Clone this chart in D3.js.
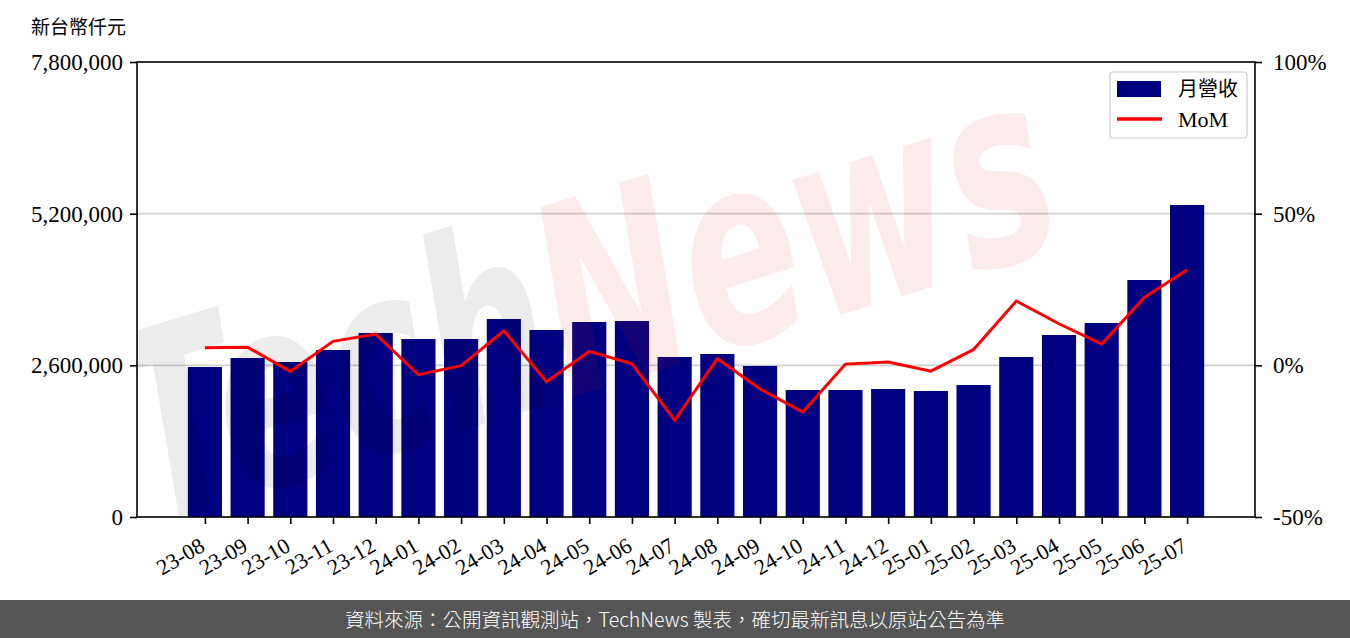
<!DOCTYPE html>
<html lang="zh-Hant-TW">
<head>
<meta charset="utf-8">
<script src="https://cdn.jsdelivr.net/npm/d3@7"></script>
<style>
  html, body { margin: 0; padding: 0; background: #fff; }
  svg { display: block; }
</style>
</head>
<body>
<svg id="chart" width="1350" height="638"></svg>
<script>
// ---- data ----
const months = ["23-08","23-09","23-10","23-11","23-12","24-01","24-02","24-03","24-04","24-05","24-06","24-07",
                "24-08","24-09","24-10","24-11","24-12","25-01","25-02","25-03","25-04","25-05","25-06","25-07"];
const revenue = [2571000, 2726000, 2657000, 2863000, 3154000, 3051000, 3051000, 3394000, 3206000, 3343000, 3360000, 2743000,
                 2794000, 2589000, 2177000, 2177000, 2194000, 2160000, 2263000, 2743000, 3120000, 3326000, 4063000, 5349000];
const mom = [5.8, 6.0, -2.0, 7.9, 10.3, -3.1, -0.1, 11.4, -5.4, 4.6, 0.5, -18.1,
             2.2, -7.8, -15.4, 0.4, 1.1, -1.9, 5.2, 21.2, 13.7, 7.0, 22.4, 31.5];
const leftTicks = [0, 2600000, 5200000, 7800000];
const rightTicks = [-50, 0, 50, 100];
const yTitle = "新台幣仟元";
const legendLabels = ["月營收", "MoM"];
const footerText = "資料來源：公開資訊觀測站，TechNews 製表，確切最新訊息以原站公告為準";

// ---- layout ----
const svg = d3.select("#chart");
const L = 137, R = 1255, T = 62, B = 517;
const serif = "'Liberation Serif', 'DejaVu Serif', serif";
const cjk = "'Noto Sans CJK TC', 'Noto Sans CJK SC', sans-serif";
const navy = "#000080";

const n = months.length;
const x = d3.scaleLinear().domain([-0.4 - 0.05 * (n - 0.2), n - 0.6 + 0.05 * (n - 0.2)]).range([L, R]);
const barW = x(0.8) - x(0);
const y = d3.scaleLinear().domain([0, 7800000]).range([B, T]);
const y2 = d3.scaleLinear().domain([-50, 100]).range([B, T]);

// gridlines
svg.append("g").selectAll("line").data(leftTicks.filter(d => d > 0 && d < 7800000)).join("line")
  .attr("x1", L).attr("x2", R).attr("y1", d => y(d)).attr("y2", d => y(d))
  .attr("stroke", "#d0d0d0").attr("stroke-width", 1.6);

// bars
svg.append("g").selectAll("rect").data(revenue).join("rect")
  .attr("x", (d, i) => x(i) - barW / 2)
  .attr("width", barW)
  .attr("y", d => y(d))
  .attr("height", d => B - y(d))
  .attr("fill", navy);

// watermark
const wmClip = svg.append("clipPath").attr("id", "plotclip");
wmClip.append("rect").attr("x", L).attr("y", T).attr("width", R - L).attr("height", B - T);
const wm = svg.append("g").attr("pointer-events", "none").attr("clip-path", "url(#plotclip)")
  .append("g").attr("transform", "translate(150,526) rotate(-17) scale(0.66,1)");
const wmText = wm.append("text")
  .attr("font-family", "'DejaVu Sans', sans-serif")
  .attr("font-style", "italic").attr("font-weight", "bold")
  .attr("font-size", 262);
wmText.append("tspan").text("Tech").attr("fill", "#000").attr("fill-opacity", 0.075);
wmText.append("tspan").text("News").attr("fill", "rgb(220,30,30)").attr("fill-opacity", 0.09);

// MoM line
svg.append("path").datum(mom)
  .attr("d", d3.line().x((d, i) => x(i)).y(d => y2(d)))
  .attr("fill", "none").attr("stroke", "#ff0000").attr("stroke-width", 3)
  .attr("stroke-linejoin", "miter");

// frame
svg.append("rect").attr("x", L).attr("y", T).attr("width", R - L).attr("height", B - T)
  .attr("fill", "none").attr("stroke", "#000").attr("stroke-width", 1.6);

// left axis
const leftAxis = d3.axisLeft(y).tickValues(leftTicks).tickFormat(d3.format(",")).tickSize(7).tickPadding(7);
const gl = svg.append("g").attr("transform", `translate(${L},0)`).call(leftAxis);
gl.select(".domain").remove();
gl.selectAll(".tick line").attr("stroke", "#000").attr("stroke-width", 1.6);
gl.selectAll(".tick text").attr("font-family", serif).attr("font-size", 23).attr("fill", "#000");

// right axis
const rightAxis = d3.axisRight(y2).tickValues(rightTicks).tickFormat(d => d + "%").tickSize(7).tickPadding(11);
const gr = svg.append("g").attr("transform", `translate(${R},0)`).call(rightAxis);
gr.select(".domain").remove();
gr.selectAll(".tick line").attr("stroke", "#000").attr("stroke-width", 1.6);
gr.selectAll(".tick text").attr("font-family", serif).attr("font-size", 23).attr("fill", "#000");

// bottom axis
const xb = d3.scaleOrdinal().domain(months).range(months.map((m, i) => x(i)));
const bottomAxis = d3.axisBottom(xb).tickSize(7).tickFormat(d => d);
const gb = svg.append("g").attr("transform", `translate(0,${B})`).call(bottomAxis);
gb.select(".domain").remove();
gb.selectAll(".tick line").attr("stroke", "#000").attr("stroke-width", 1.6);
gb.selectAll(".tick text")
  .attr("font-family", serif).attr("font-size", 22).attr("fill", "#000")
  .attr("text-anchor", "end").attr("dy", null).attr("y", null)
  .attr("transform", "translate(1,33) rotate(-30)");

// y title
svg.append("text").attr("x", 31).attr("y", 34).text(yTitle)
  .attr("font-family", cjk).attr("font-size", 19).attr("fill", "#000");

// legend
const lg = svg.append("g");
lg.append("rect").attr("x", 1110).attr("y", 72).attr("width", 137).attr("height", 66).attr("rx", 3)
  .attr("fill", "#fff").attr("fill-opacity", 0.8).attr("stroke", "#cccccc").attr("stroke-width", 1.2);
lg.append("rect").attr("x", 1117).attr("y", 81).attr("width", 44).attr("height", 16).attr("fill", navy);
lg.append("line").attr("x1", 1117).attr("x2", 1162).attr("y1", 119).attr("y2", 119)
  .attr("stroke", "#ff0000").attr("stroke-width", 3.5);
lg.append("text").attr("x", 1178).attr("y", 96).text(legendLabels[0])
  .attr("font-family", cjk).attr("font-size", 20).attr("fill", "#000");
lg.append("text").attr("x", 1178).attr("y", 127).text(legendLabels[1])
  .attr("font-family", serif).attr("font-size", 22).attr("fill", "#000");

// footer
svg.append("rect").attr("x", 0).attr("y", 600).attr("width", 1350).attr("height", 38).attr("fill", "#555555");
svg.append("text").attr("x", 675).attr("y", 620).attr("dy", "0.35em").attr("text-anchor", "middle")
  .attr("lang", "zh-Hant-TW")
  .text(footerText).attr("font-family", cjk).attr("font-size", 19.5).attr("font-weight", 300).attr("fill", "#fff");
</script>
</body>
</html>
